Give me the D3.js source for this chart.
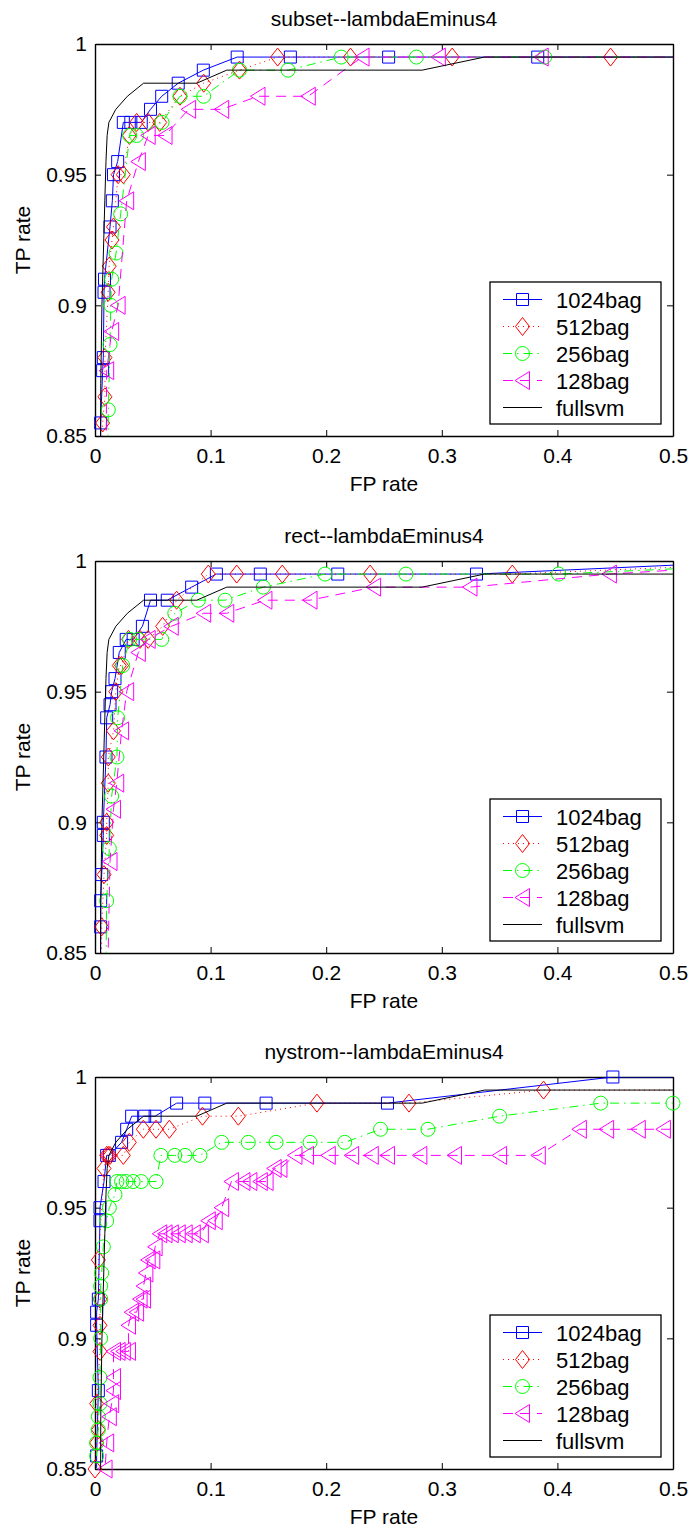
<!DOCTYPE html>
<html>
<head>
<meta charset="utf-8">
<script src="https://cdn.jsdelivr.net/npm/d3@7"></script>
<style>
  body { margin: 0; background: #fff; }
  text { font-family: "Liberation Sans", Arial, Helvetica, sans-serif; fill: #000; }
</style>
</head>
<body>
<svg id="chart" width="692" height="1532"></svg>
<script>
// ---- data: [FP rate, TP rate] pairs ----
const panelTitles = ["subset--lambdaEminus4", "rect--lambdaEminus4", "nystrom--lambdaEminus4"];
const seriesNames = ["1024bag", "512bag", "256bag", "128bag", "fullsvm"];
const xTicks = [0, 0.1, 0.2, 0.3, 0.4, 0.5];
const xTickLabels = ["0", "0.1", "0.2", "0.3", "0.4", "0.5"];
const yTicks = [0.85, 0.9, 0.95, 1];
const yTickLabels = ["0.85", "0.9", "0.95", "1"];

// shared full svm curve
const fullsvm = [[0.0045,0.80],[0.005,0.87],[0.006,0.90],[0.0085,0.94],[0.0095,0.955],[0.0105,0.965],
  [0.012,0.97],[0.018,0.975],[0.028,0.98],[0.042,0.985],[0.088,0.985],[0.114,0.99],[0.283,0.99],
  [0.337,0.995],[1,0.995]];

// subset
const subset1024 = [[0.0049,0.80],[0.0049,0.855],[0.0066,0.875],[0.0072,0.88],[0.0078,0.905],[0.0082,0.91],
  [0.013,0.93],[0.015,0.94],[0.016,0.95],[0.0196,0.955],[0.0245,0.97],[0.031,0.97],[0.04,0.97],
  [0.048,0.975],[0.0577,0.98],[0.072,0.985],[0.0937,0.99],[0.123,0.995],[0.169,0.995],[0.254,0.995],
  [0.383,0.995],[1,0.995]];
const subset512 = [[0.006,0.80],[0.0066,0.855],[0.0086,0.865],[0.0086,0.88],[0.0114,0.905],[0.0123,0.915],
  [0.0147,0.925],[0.016,0.93],[0.020,0.95],[0.0245,0.95],[0.0297,0.965],[0.036,0.97],[0.046,0.97],
  [0.056,0.97],[0.0735,0.98],[0.094,0.985],[0.125,0.99],[0.158,0.995],[0.221,0.995],[0.309,0.995],
  [0.446,0.995],[1,0.995]];
const subset256 = [[0.011,0.80],[0.0115,0.86],[0.013,0.885],[0.0136,0.90],[0.0144,0.91],[0.0182,0.92],
  [0.0222,0.935],[0.030,0.965],[0.036,0.965],[0.058,0.97],[0.0735,0.98],[0.094,0.98],[0.125,0.99],
  [0.167,0.99],[0.213,0.995],[0.278,0.995],[0.389,0.995],[1,0.995]];
const subset128 = [[0.009,0.80],[0.0101,0.875],[0.0144,0.89],[0.020,0.90],[0.0274,0.94],[0.0375,0.955],
  [0.046,0.965],[0.0606,0.965],[0.081,0.975],[0.1096,0.975],[0.141,0.98],[0.1845,0.98],[0.231,0.995],
  [0.297,0.995],[0.386,0.995],[1,0.995]];

// rect
const rect1024 = [[0.0045,0.80],[0.0049,0.86],[0.0049,0.87],[0.0058,0.88],[0.0072,0.895],[0.0072,0.90],
  [0.0095,0.925],[0.0101,0.94],[0.013,0.945],[0.0144,0.95],[0.0173,0.955],[0.021,0.965],[0.027,0.97],
  [0.033,0.97],[0.041,0.975],[0.048,0.985],[0.0625,0.985],[0.0836,0.99],[0.105,0.995],[0.143,0.995],
  [0.21,0.995],[0.33,0.995],[0.58,1]];
const rect512 = [[0.005,0.80],[0.0058,0.86],[0.0078,0.88],[0.0101,0.895],[0.0101,0.90],[0.0115,0.915],
  [0.0115,0.925],[0.016,0.935],[0.018,0.95],[0.021,0.96],[0.023,0.96],[0.029,0.97],[0.039,0.97],
  [0.046,0.97],[0.0585,0.975],[0.0706,0.985],[0.098,0.995],[0.1226,0.995],[0.162,0.995],[0.238,0.995],
  [0.361,0.995],[0.63,1]];
const rect256 = [[0.0085,0.80],[0.0101,0.87],[0.0124,0.89],[0.0144,0.91],[0.019,0.925],[0.0196,0.94],
  [0.024,0.96],[0.030,0.97],[0.0375,0.97],[0.0577,0.97],[0.069,0.98],[0.0894,0.985],[0.1125,0.985],
  [0.1456,0.99],[0.199,0.995],[0.269,0.995],[0.401,0.995],[0.65,1]];
const rect128 = [[0.009,0.80],[0.013,0.885],[0.016,0.905],[0.0188,0.915],[0.023,0.935],[0.0274,0.95],
  [0.0375,0.965],[0.046,0.97],[0.066,0.975],[0.094,0.98],[0.114,0.98],[0.147,0.985],[0.186,0.985],
  [0.241,0.99],[0.3244,0.99],[0.445,0.995],[0.63,1]];

// nystrom
const nys1024 = [[0.0014,0.80],[0.0014,0.855],[0.0029,0.88],[0.0014,0.905],[0.0014,0.91],[0.0029,0.915],
  [0.0043,0.945],[0.0043,0.95],[0.0078,0.96],[0.0101,0.97],[0.0124,0.97],[0.023,0.975],[0.0274,0.98],
  [0.0317,0.985],[0.043,0.985],[0.052,0.985],[0.0706,0.99],[0.095,0.99],[0.148,0.99],[0.253,0.99],
  [0.448,1],[1,1]];
const nys512 = [[0,0.80],[0,0.85],[0.0014,0.86],[0.0029,0.865],[0.0014,0.875],[0.0043,0.895],[0.0043,0.905],
  [0.0043,0.915],[0.0029,0.93],[0.0078,0.965],[0.0101,0.97],[0.0115,0.97],[0.013,0.97],[0.0245,0.97],
  [0.0297,0.975],[0.0418,0.98],[0.0528,0.98],[0.0643,0.98],[0.093,0.985],[0.124,0.985],[0.192,0.99],
  [0.2716,0.99],[0.388,0.995],[1,0.995]];
const nys256 = [[0.0014,0.80],[0.0014,0.855],[0.0014,0.86],[0.0028,0.865],[0.0029,0.87],[0.0043,0.875],
  [0.0043,0.885],[0.0049,0.90],[0.0049,0.915],[0.0049,0.92],[0.0058,0.925],[0.0072,0.935],[0.0101,0.945],
  [0.0124,0.95],[0.0173,0.955],[0.019,0.96],[0.023,0.96],[0.027,0.96],[0.033,0.96],[0.040,0.96],
  [0.0528,0.96],[0.057,0.97],[0.069,0.97],[0.0779,0.97],[0.0908,0.97],[0.1096,0.975],[0.1326,0.975],
  [0.1566,0.975],[0.186,0.975],[0.216,0.975],[0.247,0.98],[0.288,0.98],[0.35,0.985],[0.4375,0.99],
  [0.5,0.99],[1,0.99]];
const nys128 = [[0.0087,0.80],[0.0087,0.85],[0.0101,0.86],[0.0124,0.87],[0.0144,0.875],[0.016,0.88],
  [0.016,0.885],[0.016,0.895],[0.020,0.895],[0.0245,0.895],[0.029,0.895],[0.029,0.905],[0.0317,0.91],
  [0.036,0.91],[0.039,0.915],[0.042,0.915],[0.042,0.92],[0.044,0.925],[0.046,0.93],[0.05,0.93],
  [0.052,0.935],[0.056,0.94],[0.0606,0.94],[0.066,0.94],[0.072,0.94],[0.078,0.94],[0.085,0.94],
  [0.092,0.94],[0.098,0.945],[0.104,0.945],[0.1096,0.95],[0.118,0.96],[0.128,0.96],[0.134,0.96],
  [0.143,0.96],[0.148,0.96],[0.155,0.965],[0.16,0.965],[0.173,0.97],[0.183,0.97],[0.2018,0.97],
  [0.222,0.97],[0.239,0.97],[0.253,0.97],[0.281,0.97],[0.311,0.97],[0.35,0.97],[0.3835,0.97],
  [0.419,0.98],[0.4426,0.98],[0.47,0.98],[0.4917,0.98],[1,0.98]];

const panelData = [
  [subset1024, subset512, subset256, subset128, fullsvm],
  [rect1024, rect512, rect256, rect128, fullsvm],
  [nys1024, nys512, nys256, nys128, fullsvm]
];

// ---- styles ----
const colors = ["#0000ff", "#ff0000", "#00ff00", "#ff00ff", "#000000"];
const dashes = [null, "1,4", "9,5,1.5,5", "10,7", null];
const markers = ["square", "diamond", "circle", "left", null];

function markerPath(type) {
  if (type === "square") return "M-6,-6H6V6H-6Z";
  if (type === "diamond") return "M0,-9L7,0L0,9L-7,0Z";
  if (type === "circle") return "M7,0A7,7 0 1,1 -7,0A7,7 0 1,1 7,0Z";
  if (type === "left") return "M-7.5,0L7,-9L7,9Z";
  return "";
}

const svg = d3.select("#chart");
const left = 95, right = 673, plotH = 392;
const tops = [44, 561, 1077];
const x = d3.scaleLinear().domain([0, 0.5]).range([left, right]);

svg.append("defs").selectAll("clipPath")
  .data(tops).enter().append("clipPath")
  .attr("id", (d, i) => "clip" + i)
  .append("rect")
  .attr("x", left).attr("y", d => d)
  .attr("width", right - left).attr("height", plotH);

tops.forEach(function(top, p) {
  const bottom = top + plotH;
  const y = d3.scaleLinear().domain([0.85, 1]).range([bottom, top]);
  const g = svg.append("g");

  // title
  g.append("text")
    .attr("x", (left + right) / 2).attr("y", top - 18)
    .attr("text-anchor", "middle").attr("font-size", 21)
    .text(panelTitles[p]);

  // axes (inward ticks, boxed)
  const xb = g.append("g").attr("transform", "translate(0," + bottom + ")")
    .call(d3.axisBottom(x).tickValues(xTicks).tickSizeInner(-6).tickSizeOuter(0).tickPadding(12)
      .tickFormat((d, i) => xTickLabels[i]));
  const xt = g.append("g").attr("transform", "translate(0," + top + ")")
    .call(d3.axisTop(x).tickValues(xTicks).tickSizeInner(-6).tickSizeOuter(0).tickFormat(""));
  const yl = g.append("g").attr("transform", "translate(" + left + ",0)")
    .call(d3.axisLeft(y).tickValues(yTicks).tickSizeInner(-6).tickSizeOuter(0).tickPadding(8)
      .tickFormat((d, i) => yTickLabels[i]));
  const yr = g.append("g").attr("transform", "translate(" + right + ",0)")
    .call(d3.axisRight(y).tickValues(yTicks).tickSizeInner(-6).tickSizeOuter(0).tickFormat(""));
  [xb, xt, yl, yr].forEach(a => {
    a.selectAll("path.domain").attr("stroke", "#000").attr("stroke-width", 1.4);
    a.selectAll(".tick line").attr("stroke", "#000").attr("stroke-width", 1);
    a.selectAll("text").attr("font-size", 21).attr("fill", "#000")
      .attr("font-family", "'Liberation Sans', Arial, sans-serif");
  });

  // axis labels
  g.append("text")
    .attr("x", (left + right) / 2).attr("y", bottom + 55)
    .attr("text-anchor", "middle").attr("font-size", 21)
    .text("FP rate");
  g.append("text")
    .attr("transform", "translate(30," + ((top + bottom) / 2) + ") rotate(-90)")
    .attr("text-anchor", "middle").attr("font-size", 21)
    .text("TP rate");

  // series
  const line = d3.line().x(d => x(d[0])).y(d => y(d[1]));
  panelData[p].forEach(function(data, s) {
    g.append("path")
      .attr("clip-path", "url(#clip" + p + ")")
      .attr("d", line(data))
      .attr("fill", "none")
      .attr("stroke", colors[s])
      .attr("stroke-width", 1)
      .attr("stroke-dasharray", dashes[s]);
    if (markers[s]) {
      g.selectAll(null)
        .data(data.filter(d => d[0] <= 0.5 && d[1] >= 0.85))
        .enter().append("path")
        .attr("transform", d => "translate(" + x(d[0]) + "," + y(d[1]) + ")")
        .attr("d", markerPath(markers[s]))
        .attr("fill", "none")
        .attr("stroke", colors[s])
        .attr("stroke-width", 1);
    }
  });

  // legend
  const lgX = 490, lgW = 171, lgH = 142, lgY = bottom - 12 - lgH;
  const lg = g.append("g");
  lg.append("rect")
    .attr("x", lgX).attr("y", lgY).attr("width", lgW).attr("height", lgH)
    .attr("fill", "#fff").attr("stroke", "#000").attr("stroke-width", 1.3);
  seriesNames.forEach(function(name, s) {
    const cy = lgY + 17.5 + s * 27;
    lg.append("line")
      .attr("x1", 503).attr("x2", 542).attr("y1", cy).attr("y2", cy)
      .attr("stroke", colors[s]).attr("stroke-width", 1)
      .attr("stroke-dasharray", dashes[s]);
    if (markers[s]) {
      lg.append("path")
        .attr("transform", "translate(522.5," + cy + ")")
        .attr("d", markerPath(markers[s]))
        .attr("fill", "none").attr("stroke", colors[s]).attr("stroke-width", 1);
    }
    lg.append("text")
      .attr("x", 556).attr("y", cy + 8)
      .attr("font-size", 22)
      .text(name);
  });
});
</script>
</body>
</html>
